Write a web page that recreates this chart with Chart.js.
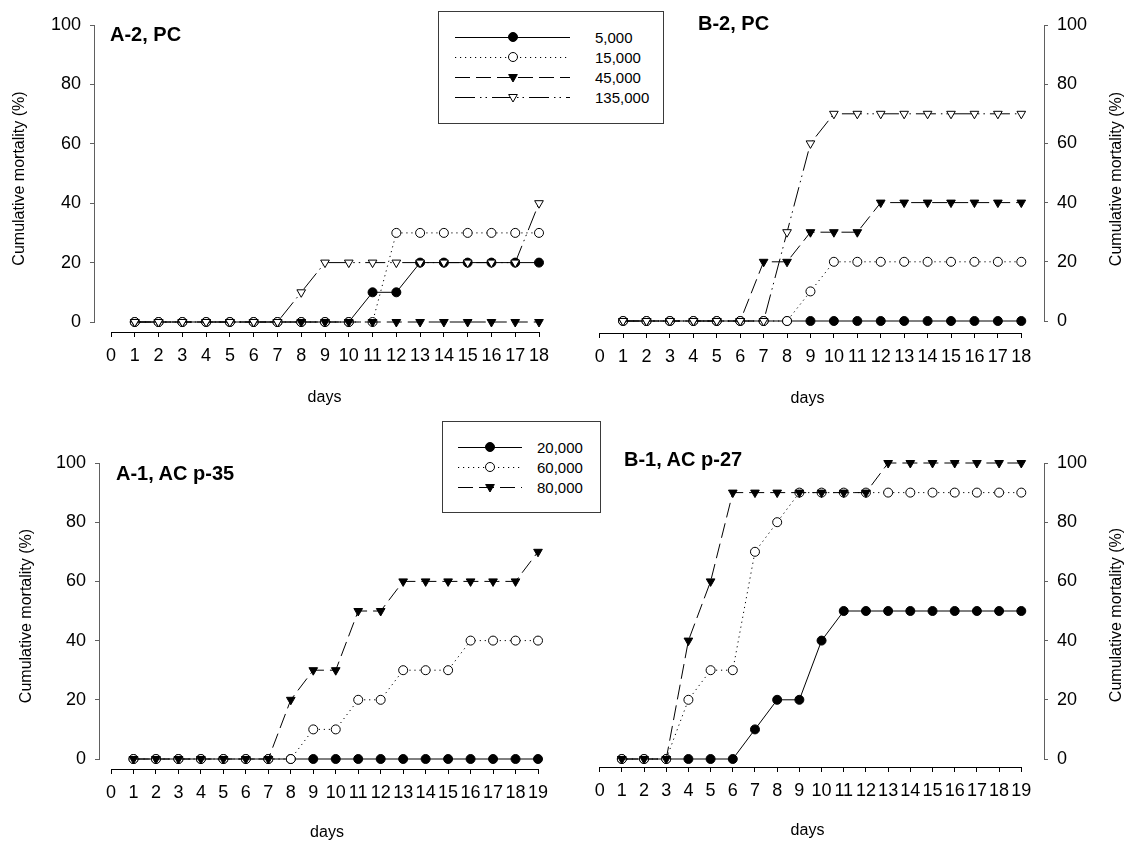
<!DOCTYPE html>
<html>
<head>
<meta charset="utf-8">
<title>Cumulative mortality</title>
<script src="https://cdn.jsdelivr.net/npm/chart.js@4.4.1/dist/chart.umd.min.js"></script>
<style>
  html, body { margin: 0; padding: 0; background: #fff; }
  #wrap { position: relative; width: 1130px; height: 843px; overflow: hidden;
          font-family: 'Liberation Sans', Arial, sans-serif; color: #000; }
  #wrap canvas { position: absolute; }
  .panel-title { position: absolute; font-weight: bold; font-size: 20px; line-height: 20px; white-space: nowrap; }
  .legend-box { position: absolute; border: 1px solid #3a3a3a; background: #fff; box-sizing: border-box; }
  .legend-sample { position: absolute; overflow: visible; }
  .legend-label { position: absolute; font-size: 15px; line-height: 15px; white-space: nowrap; }
</style>
</head>
<body>
<div id="wrap">
  <canvas id="chart-a2" width="565" height="420" style="left:0;top:0"></canvas>
  <canvas id="chart-b2" width="565" height="420" style="left:565px;top:0"></canvas>
  <canvas id="chart-a1" width="565" height="423" style="left:0;top:420px"></canvas>
  <canvas id="chart-b1" width="565" height="423" style="left:565px;top:420px"></canvas>
</div>
<script>
// ---- data ----
const days18 = [1, 2, 3, 4, 5, 6, 7, 8, 9, 10, 11, 12, 13, 14, 15, 16, 17, 18];
const days19 = [1, 2, 3, 4, 5, 6, 7, 8, 9, 10, 11, 12, 13, 14, 15, 16, 17, 18, 19];
const xTicks18 = [0, 1, 2, 3, 4, 5, 6, 7, 8, 9, 10, 11, 12, 13, 14, 15, 16, 17, 18];
const xTicks19 = [0, 1, 2, 3, 4, 5, 6, 7, 8, 9, 10, 11, 12, 13, 14, 15, 16, 17, 18, 19];
const yTicks = [0, 20, 40, 60, 80, 100];

const labelsPC = ['5,000', '15,000', '45,000', '135,000'];
const labelsAC = ['20,000', '60,000', '80,000'];

// A-2, PC
const a2_5000   = [0, 0, 0, 0, 0, 0, 0, 0, 0, 0, 10, 10, 20, 20, 20, 20, 20, 20];
const a2_15000  = [0, 0, 0, 0, 0, 0, 0, 0, 0, 0, 0, 30, 30, 30, 30, 30, 30, 30];
const a2_45000  = [0, 0, 0, 0, 0, 0, 0, 0, 0, 0, 0, 0, 0, 0, 0, 0, 0, 0];
const a2_135000 = [0, 0, 0, 0, 0, 0, 0, 10, 20, 20, 20, 20, 20, 20, 20, 20, 20, 40];

// B-2, PC
const b2_5000   = [0, 0, 0, 0, 0, 0, 0, 0, 0, 0, 0, 0, 0, 0, 0, 0, 0, 0];
const b2_15000  = [0, 0, 0, 0, 0, 0, 0, 0, 10, 20, 20, 20, 20, 20, 20, 20, 20, 20];
const b2_45000  = [0, 0, 0, 0, 0, 0, 20, 20, 30, 30, 30, 40, 40, 40, 40, 40, 40, 40];
const b2_135000 = [0, 0, 0, 0, 0, 0, 0, 30, 60, 70, 70, 70, 70, 70, 70, 70, 70, 70];

// A-1, AC p-35
const a1_20000 = [0, 0, 0, 0, 0, 0, 0, 0, 0, 0, 0, 0, 0, 0, 0, 0, 0, 0, 0];
const a1_60000 = [0, 0, 0, 0, 0, 0, 0, 0, 10, 10, 20, 20, 30, 30, 30, 40, 40, 40, 40];
const a1_80000 = [0, 0, 0, 0, 0, 0, 0, 20, 30, 30, 50, 50, 60, 60, 60, 60, 60, 60, 70];

// B-1, AC p-27
const b1_20000 = [0, 0, 0, 0, 0, 0, 10, 20, 20, 40, 50, 50, 50, 50, 50, 50, 50, 50, 50];
const b1_60000 = [0, 0, 0, 20, 30, 30, 70, 80, 90, 90, 90, 90, 90, 90, 90, 90, 90, 90, 90];
const b1_80000 = [0, 0, 0, 40, 60, 90, 90, 90, 90, 90, 90, 90, 100, 100, 100, 100, 100, 100, 100];

// ---- line / marker styles ----
const FONT = "'Liberation Sans', Arial, sans-serif";
Chart.defaults.font.family = FONT;
Chart.defaults.color = '#000';

const STYLES = {
  solid:   { dash: [],                     point: 'circle',   fill: '#000', r: 4.5, rot: 0 },
  dotted:  { dash: [1.2, 3.8],             point: 'circle',   fill: '#fff', r: 4.5, rot: 0 },
  dashed:  { dash: [15, 6],                point: 'triangle', fill: '#000', r: 5,   rot: 180 },
  dashDot: { dash: [20, 5, 1.5, 4, 1.5, 5], point: 'triangle', fill: '#fff', r: 5,   rot: 180 }
};
const styleOrder = ['solid', 'dotted', 'dashed', 'dashDot'];

// draws the offset axis lines (SigmaPlot style) and the right-hand y title
const axisLines = {
  id: 'axisLines',
  beforeDatasetsDraw(chart, args, opts) {
    const { ctx, chartArea, scales: { x, y } } = chart;
    ctx.save();
    ctx.lineWidth = 1;
    // x axis from day 0 to last day
    const xy = Math.floor(chartArea.bottom) + 0.5;
    ctx.strokeStyle = '#000';
    ctx.beginPath();
    ctx.moveTo(Math.floor(x.getPixelForValue(0)), xy);
    ctx.lineTo(Math.floor(x.getPixelForValue(opts.lastDay)) + 1, xy);
    ctx.stroke();
    // y axis from 0 to 100
    const ax = Math.floor(opts.side === 'left' ? chartArea.left : chartArea.right) + 0.5;
    ctx.strokeStyle = '#606060';
    ctx.beginPath();
    ctx.moveTo(ax, Math.floor(y.getPixelForValue(0)) + 1);
    ctx.lineTo(ax, Math.floor(y.getPixelForValue(100)));
    ctx.stroke();
    ctx.restore();
  },
  afterDraw(chart, args, opts) {
    if (!opts.rightTitleX) return;
    const { ctx, chartArea } = chart;
    ctx.save();
    ctx.translate(opts.rightTitleX, (chartArea.top + chartArea.bottom) / 2);
    ctx.rotate(-Math.PI / 2);
    ctx.font = '16px ' + FONT;
    ctx.fillStyle = '#000';
    ctx.textAlign = 'center';
    ctx.textBaseline = 'middle';
    ctx.fillText('Cumulative mortality (%)', 0, 0);
    ctx.restore();
  }
};

function makePanel(p) {
  const n = p.days[p.days.length - 1];
  const caLeft = p.side === 'left' ? p.axis : p.far;
  const caRight = p.side === 'left' ? p.far : p.axis;
  const pxDay = (p.dN - p.d0) / n;
  const pxUnit = (p.y0 - p.yTop) / 100;
  const yScaleWidth = p.side === 'left' ? caLeft : p.w - caRight;

  const datasets = p.series.map((vals, i) => {
    const s = STYLES[styleOrder[i]];
    return {
      label: p.labels[i],
      data: p.days.map((d, k) => ({ x: d, y: vals[k] })),
      borderColor: '#000',
      borderWidth: 1,
      borderDash: s.dash,
      tension: 0,
      fill: false,
      clip: false,
      pointStyle: s.point,
      pointRadius: s.r,
      pointRotation: s.rot,
      pointBackgroundColor: s.fill,
      pointBorderColor: '#000',
      pointBorderWidth: 1,
      order: p.series.length - 1 - i
    };
  });

  return new Chart(document.getElementById(p.id), {
    type: 'line',
    data: { datasets },
    options: {
      responsive: false,
      animation: false,
      events: [],
      layout: {
        padding: {
          left: p.side === 'left' ? 0 : caLeft,
          right: p.side === 'left' ? p.w - caRight : 0,
          top: p.yTop,
          bottom: 0
        }
      },
      plugins: {
        legend: { display: false },
        tooltip: { enabled: false },
        axisLines: { side: p.side, lastDay: n, rightTitleX: p.rightTitleX }
      },
      scales: {
        x: {
          type: 'linear',
          position: 'bottom',
          min: (caLeft - p.d0) / pxDay,
          max: n + (caRight - p.dN) / pxDay,
          afterBuildTicks: (s) => { s.ticks = p.xTicks.map(v => ({ value: v })); },
          afterFit: (s) => { s.height = p.h - p.xLine; },
          border: { display: false },
          grid: { drawOnChartArea: false, drawTicks: true, tickLength: 5, color: '#000', lineWidth: 1 },
          ticks: { autoSkip: false, maxRotation: 0, minRotation: 0, padding: 8, color: '#000', font: { size: 18 } },
          title: { display: true, text: 'days', color: '#000', font: { size: 16 }, padding: { top: 0, bottom: p.xTitlePad } }
        },
        y: {
          type: 'linear',
          position: p.side,
          min: -(p.xLine - p.y0) / pxUnit,
          max: 100,
          afterBuildTicks: (s) => { s.ticks = yTicks.map(v => ({ value: v })); },
          afterFit: (s) => { s.width = yScaleWidth; },
          border: { display: false },
          grid: { drawOnChartArea: false, drawTicks: true, tickLength: 4, color: '#606060', lineWidth: 1 },
          ticks: { padding: 9, color: '#000', font: { size: 18 } },
          title: p.side === 'left'
            ? { display: true, text: 'Cumulative mortality (%)', color: '#000', font: { size: 16 }, padding: { top: p.yTitlePad, bottom: 0 } }
            : { display: false }
        }
      }
    },
    plugins: [axisLines]
  });
}

const panels = [
  { id: 'chart-a2', title: 'A-2, PC', tx: 110, ty: 24, left: 0, top: 0, w: 565, h: 420, side: 'left',
    axis: 94, far: 555, yTop: 25, y0: 322, xLine: 332, d0: 111, dN: 539,
    days: days18, xTicks: xTicks18, labels: labelsPC, series: [a2_5000, a2_15000, a2_45000, a2_135000],
    yTitlePad: 10, xTitlePad: 13 },
  { id: 'chart-b2', title: 'B-2, PC', tx: 698, ty: 13, left: 565, top: 0, w: 565, h: 420, side: 'right',
    axis: 479, far: 0, yTop: 25, y0: 321, xLine: 333, d0: 29, dN: 456,
    days: days18, xTicks: xTicks18, labels: labelsPC, series: [b2_5000, b2_15000, b2_45000, b2_135000],
    rightTitleX: 552, xTitlePad: 12 },
  { id: 'chart-a1', title: 'A-1, AC p-35', tx: 116, ty: 463, left: 0, top: 420, w: 565, h: 423, side: 'left',
    axis: 99, far: 555, yTop: 43, y0: 339, xLine: 349, d0: 111, dN: 538,
    days: days19, xTicks: xTicks19, labels: labelsAC, series: [a1_20000, a1_60000, a1_80000],
    yTitlePad: 17, xTitlePad: 1 },
  { id: 'chart-b1', title: 'B-1, AC p-27', tx: 624, ty: 449, left: 565, top: 420, w: 565, h: 423, side: 'right',
    axis: 479, far: 0, yTop: 43, y0: 339, xLine: 347, d0: 29, dN: 456,
    days: days19, xTicks: xTicks19, labels: labelsAC, series: [b1_20000, b1_60000, b1_80000],
    rightTitleX: 552, xTitlePad: 3 }
];

const wrap = document.getElementById('wrap');
panels.forEach(p => {
  makePanel(p);
  const t = document.createElement('div');
  t.className = 'panel-title';
  t.style.left = p.tx + 'px';
  t.style.top = p.ty + 'px';
  t.textContent = p.title;
  wrap.appendChild(t);
});

// ---- legends (HTML, sample lines in SVG) ----
const SVGNS = 'http://www.w3.org/2000/svg';
function sample(style, x1, x2, mx, cy) {
  const s = STYLES[style];
  const svg = document.createElementNS(SVGNS, 'svg');
  const w = x2 - x1;
  svg.setAttribute('class', 'legend-sample');
  svg.setAttribute('width', w);
  svg.setAttribute('height', 14);
  svg.style.left = x1 + 'px';
  svg.style.top = (cy - 7) + 'px';
  const line = document.createElementNS(SVGNS, 'line');
  line.setAttribute('x1', 0); line.setAttribute('x2', w);
  line.setAttribute('y1', 7.5); line.setAttribute('y2', 7.5);
  line.setAttribute('stroke', '#000');
  line.setAttribute('stroke-width', 1);
  if (s.dash.length) line.setAttribute('stroke-dasharray', s.dash.join(' '));
  svg.appendChild(line);
  const cx = mx - x1;
  let m;
  if (s.point === 'circle') {
    m = document.createElementNS(SVGNS, 'circle');
    m.setAttribute('cx', cx); m.setAttribute('cy', 7); m.setAttribute('r', s.r);
  } else {
    m = document.createElementNS(SVGNS, 'polygon');
    const r = s.r, h = r * Math.sin(Math.PI / 3);
    m.setAttribute('points', `${cx},${7 + r} ${cx - h},${7 - r / 2} ${cx + h},${7 - r / 2}`);
  }
  m.setAttribute('fill', s.fill);
  m.setAttribute('stroke', '#000');
  m.setAttribute('stroke-width', 1);
  svg.appendChild(m);
  return svg;
}

function legend(box, labels, rowY, x1, x2, mx, labelX) {
  const b = document.createElement('div');
  b.className = 'legend-box';
  Object.assign(b.style, { left: box[0] + 'px', top: box[1] + 'px', width: box[2] + 'px', height: box[3] + 'px' });
  wrap.appendChild(b);
  labels.forEach((lab, i) => {
    wrap.appendChild(sample(styleOrder[i], x1, x2, mx, rowY[i]));
    const t = document.createElement('div');
    t.className = 'legend-label';
    t.style.left = labelX + 'px';
    t.style.top = (rowY[i] - 7) + 'px';
    t.textContent = lab;
    wrap.appendChild(t);
  });
}

legend([438, 11, 226, 113], labelsPC, [37, 57, 77, 97], 455, 570, 513, 595);
legend([442, 421, 159, 92], labelsAC, [447, 467, 487], 458, 522, 490, 537);
</script>
</body>
</html>
